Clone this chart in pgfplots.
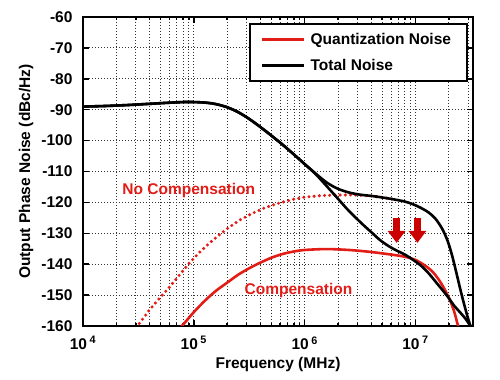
\documentclass[border=0pt]{standalone}
\usepackage{fontspec}
\setmainfont{Liberation Sans}
\usepackage{pgfplots}
\pgfplotsset{compat=1.18}
\usetikzlibrary{arrows.meta}
\definecolor{qred}{RGB}{226,28,22}
\definecolor{ared}{RGB}{204,0,0}
\newcommand{\lbl}{\fontsize{15.5bp}{18bp}\selectfont\bfseries}
\begin{document}
\begin{tikzpicture}
\begin{axis}[
  at={(83bp,54bp)}, anchor=south west,
  scale only axis, width=390bp, height=309bp,
  xmode=log, xmin=1e4, xmax=3.3e7, ymin=-160, ymax=-60,
  xtick={1e4,1e5,1e6,1e7},
  xticklabels={10\,\textsuperscript{4},10\,\textsuperscript{5},10\,\textsuperscript{6},10\,\textsuperscript{7}},
  minor xtick={2e4,3e4,4e4,5e4,6e4,7e4,8e4,9e4,2e5,3e5,4e5,5e5,6e5,7e5,8e5,9e5,2e6,3e6,4e6,5e6,6e6,7e6,8e6,9e6,2e7,3e7},
  ytick={-160,-150,-140,-130,-120,-110,-100,-90,-80,-70,-60},
  yticklabels={-160,-150,-140,-130,-120,-110,-100,-90,-80,-70,-60},
  tick label style={font=\lbl},
  yticklabel style={xshift=-7bp},
  xticklabel style={yshift=-7bp},
  label style={font=\lbl},
  xlabel={Frequency (MHz)},
  ylabel={Output Phase Noise (dBc/Hz)},
  xlabel style={at={(axis description cs:0.5,-0.126)}, anchor=center},
  ylabel style={at={(axis description cs:-0.146,0.5)}, anchor=center},
  xmajorgrids, xminorgrids, ymajorgrids,
  grid style={black!80, line width=0.8bp, dash pattern=on 0.9bp off 2.1bp},
  minor grid style={black!80, line width=0.8bp, dash pattern=on 0.9bp off 2.1bp},
  axis line style={line width=1.8bp},
  tick style={line width=1.5bp, black},
  major tick length=6bp, minor tick length=3bp, tick align=inside,
  legend style={at={(rel axis cs:0.987,0.981)}, anchor=north east, draw=black, line width=1.8bp, fill=white, font=\lbl, row sep=9bp, inner xsep=11bp, inner ysep=7.5bp, nodes={inner xsep=5bp}},
  legend cell align=left,
  legend image code/.code={\draw[#1] (0bp,0bp) -- (42bp,0bp);},
]
\addlegendimage{qred, line width=2.6bp}
\addlegendentry{Quantization Noise}
\addlegendimage{black, line width=2.6bp}
\addlegendentry{Total Noise}

% No compensation quantization noise (dotted)
\addplot[forget plot, qred, line width=3.4bp, line cap=round, dash pattern=on 0pt off 5.2bp] coordinates {
(3.020e4,-160.5) (3.981e4,-154.8) (5.012e4,-150.6) (6.026e4,-147.4) (7.413e4,-143.5) (9.120e4,-139.6) (1.122e5,-136.2) (1.380e5,-133.2) (1.698e5,-130.5) (2.089e5,-128.0) (2.630e5,-125.6) (3.388e5,-123.5) (4.467e5,-121.6) (5.888e5,-120.2) (7.943e5,-119.0) (1e6,-118.3) (1.413e6,-117.8) (1.995e6,-117.6) (2.818e6,-117.6) (3.981e6,-117.9) (5.012e6,-118.4) (6.310e6,-119.0)
};
% Compensation quantization noise (solid)
\addplot[forget plot, qred, line width=2.6bp, smooth] coordinates {
(7.586e4,-160.5) (8.913e4,-157.6) (1e5,-155.5) (1.259e5,-151.8) (1.585e5,-148.6) (1.995e5,-146.0) (2.512e5,-143.4) (3.162e5,-141.3) (3.981e5,-139.5) (5.012e5,-137.9) (6.310e5,-136.7) (7.943e5,-135.9) (1e6,-135.4) (1.585e6,-135.1) (2.512e6,-135.4) (3.631e6,-135.9) (5.012e6,-136.5) (7.244e6,-137.3) (8.913e6,-138.0) (1.023e7,-138.8) (1.202e7,-140.3) (1.413e7,-142.3) (1.585e7,-144.5) (1.778e7,-147.3) (2.042e7,-151.6) (2.239e7,-155.5) (2.399e7,-159.5) (2.455e7,-161)
};
% Total noise, no compensation
\addplot[forget plot, black, line width=2.6bp, smooth] coordinates {
(1e4,-89.0) (1.585e4,-88.8) (2.512e4,-88.5) (3.981e4,-88.1) (6.310e4,-87.7) (8.913e4,-87.5) (1.259e5,-87.7) (1.585e5,-88.2) (1.995e5,-89.2) (2.512e5,-90.8) (3.162e5,-93.0) (3.981e5,-95.6) (5.012e5,-98.4) (6.310e5,-101.3) (7.943e5,-104.4) (1e6,-107.6) (1.259e6,-110.7) (1.585e6,-113.6) (1.995e6,-115.6) (2.512e6,-116.8) (3.162e6,-117.5) (3.981e6,-117.9) (5.012e6,-118.4) (6.310e6,-119.0) (7.943e6,-119.7) (9.333e6,-120.5) (1.122e7,-121.8) (1.318e7,-123.3) (1.514e7,-125.3) (1.738e7,-128.5) (1.950e7,-132.5) (2.138e7,-137.2) (2.344e7,-143.0) (2.570e7,-149.0) (2.818e7,-154.5) (3.020e7,-158.3) (3.236e7,-161.5)
};
% Total noise, compensation
\addplot[forget plot, black, line width=2.6bp, smooth] coordinates {
(1e4,-89.0) (1.585e4,-88.8) (2.512e4,-88.5) (3.981e4,-88.1) (6.310e4,-87.7) (8.913e4,-87.5) (1.259e5,-87.7) (1.585e5,-88.2) (1.995e5,-89.2) (2.512e5,-90.8) (3.162e5,-93.0) (3.981e5,-95.6) (5.012e5,-98.4) (6.310e5,-101.3) (7.943e5,-104.4) (1e6,-107.6) (1.259e6,-110.9) (1.585e6,-114.8) (1.995e6,-118.8) (2.512e6,-122.8) (3.311e6,-127.0) (3.981e6,-129.6) (4.786e6,-132.2) (5.754e6,-134.2) (6.761e6,-135.6) (7.943e6,-136.8) (9.333e6,-138.4) (1.122e7,-140.5) (1.318e7,-143.0) (1.585e7,-146.5) (1.905e7,-150.0) (2.239e7,-153.5) (2.512e7,-155.5) (2.818e7,-157.6) (3.090e7,-159.7) (3.311e7,-161.0)
};
\draw[ared, line width=7.5bp, -{Triangle[width=17bp,length=12bp]}] (axis cs:6.75e6,-125) -- (axis cs:6.75e6,-133.1);
\draw[ared, line width=7.5bp, -{Triangle[width=17bp,length=12bp]}] (axis cs:1.04e7,-125) -- (axis cs:1.04e7,-133.1);
\node[font=\lbl, text=qred] at (axis cs:9.0e4,-116.3) {No Compensation};
\node[font=\lbl, text=qred] at (axis cs:8.8e5,-148.4) {Compensation};
\end{axis}
\pgfresetboundingbox
\useasboundingbox (0bp,0bp) rectangle (500bp,380bp);
\end{tikzpicture}
\end{document}
